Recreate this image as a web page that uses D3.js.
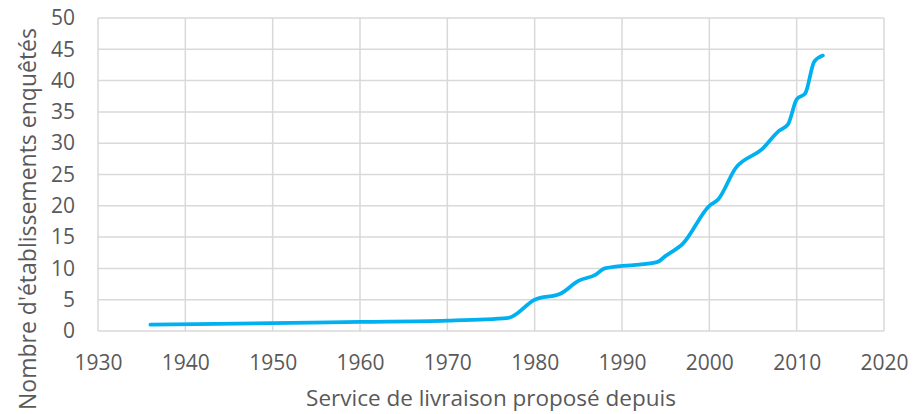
<!DOCTYPE html>
<html><head><meta charset="utf-8">
<script src="https://cdn.jsdelivr.net/npm/d3@7"></script>
<style>body{margin:0;background:#fff}svg{display:block}</style>
</head><body>
<script>
const years  = [1936, 1950, 1960, 1970, 1977, 1980, 1983, 1985, 1987, 1988, 1994, 1995, 1997, 2000, 2001, 2003, 2006, 2008, 2009, 2010, 2011, 2012, 2013];
const counts = [1,    1.25, 1.45, 1.65, 2.1,  5,    6,    8,    9,    10,   11,   12,   14,   20,   21,   26,   29,   32,   33,   37,   38,   43,   44];
const xTicks = [1930, 1940, 1950, 1960, 1970, 1980, 1990, 2000, 2010, 2020];
const yTicks = [0, 5, 10, 15, 20, 25, 30, 35, 40, 45, 50];
const xTitle = "Service de livraison proposé depuis";
const yTitle = "Nombre d'établissements enquêtés";

const W = 915, H = 414;
const m = {left: 98, right: 31, top: 18, bottom: 83};
const svg = d3.select("body").append("svg").attr("width", W).attr("height", H);
const x = d3.scaleLinear().domain([1930, 2020]).range([m.left, W - m.right]);
const y = d3.scaleLinear().domain([0, 50]).range([H - m.bottom, m.top]);
const font = "'Open Sans', sans-serif", tc = "#595959", gc = "#D9D9D9";

const g = svg.append("g");
g.selectAll(".hg").data(yTicks).join("line")
  .attr("x1", x(1930)).attr("x2", x(2020)).attr("y1", d => y(d)).attr("y2", d => y(d))
  .attr("stroke", gc).attr("stroke-width", 1.5);
g.selectAll(".vg").data(xTicks).join("line")
  .attr("x1", d => x(d)).attr("x2", d => x(d)).attr("y1", y(0)).attr("y2", y(50))
  .attr("stroke", gc).attr("stroke-width", 1.5);

const xa = svg.append("g").attr("transform", `translate(0,${y(0)})`)
  .call(d3.axisBottom(x).tickValues(xTicks).tickFormat(d3.format("d")).tickSize(0).tickPadding(24));
const ya = svg.append("g").attr("transform", `translate(${x(1930)},0)`)
  .call(d3.axisLeft(y).tickValues(yTicks).tickSize(0).tickPadding(23));
[xa, ya].forEach(a => {
  a.select(".domain").remove();
  a.selectAll("text").attr("fill", tc).style("font-family", font).style("font-size", "21px");
});

svg.append("path").datum(years.map((d, i) => [d, counts[i]]))
  .attr("fill", "none").attr("stroke", "#00B0F0").attr("stroke-width", 3.75)
  .attr("stroke-linecap", "round").attr("stroke-linejoin", "round")
  .attr("d", d3.line().x(d => x(d[0])).y(d => y(d[1])).curve(d3.curveMonotoneX));

svg.append("text").attr("x", (x(1930) + x(2020)) / 2).attr("y", 406)
  .attr("text-anchor", "middle").attr("fill", tc)
  .style("font-family", font).style("font-size", "22.5px").text(xTitle);
svg.append("text").attr("transform", `translate(36,219) rotate(-90)`)
  .attr("text-anchor", "middle").attr("fill", tc)
  .style("font-family", font).style("font-size", "23px").text(yTitle);
</script>
</body></html>
